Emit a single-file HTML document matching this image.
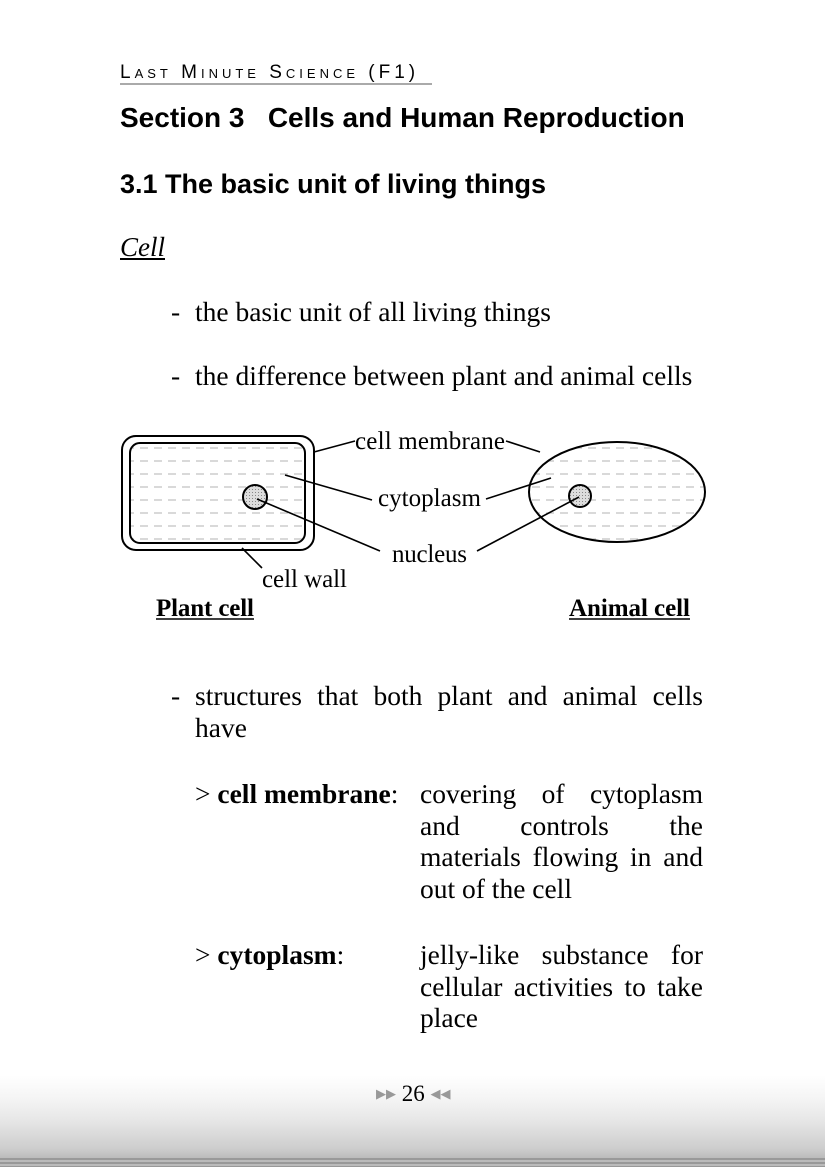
<!DOCTYPE html>
<html><head><meta charset="utf-8"><style>
body{margin:0;width:825px;height:1167px;background:#fff;position:relative;overflow:hidden;font-family:"Liberation Serif",serif;color:#000}
.a{position:absolute;white-space:nowrap;line-height:1}
.s{font-family:"Liberation Sans",sans-serif;font-weight:bold}
.t{font-size:27.5px}
.j{position:absolute;font-size:27.5px;line-height:31.7px;text-align:justify;text-align-last:left;white-space:normal}
</style></head><body>
<div class="a" style="left:120px;top:63px;font-family:'Liberation Sans',sans-serif;font-size:19px;letter-spacing:4px;font-variant:small-caps;padding-bottom:1px;border-bottom:2px solid #aaa;width:312px">Last Minute Science (F1)</div>
<div class="a s" style="left:120px;top:104px;font-size:28px">Section 3&nbsp;&nbsp; Cells and Human Reproduction</div>
<div class="a s" style="left:120px;top:171px;font-size:27px">3.1 The basic unit of living things</div>
<div class="a" style="left:120px;top:234px;font-size:27px;font-style:italic;text-decoration:underline">Cell</div>
<div class="a t" style="left:171px;top:298px">-</div><div class="a t" style="left:195px;top:298px">the basic unit of all living things</div>
<div class="a t" style="left:171px;top:362px">-</div><div class="a t" style="left:195px;top:362px">the difference between plant and animal cells</div>

<svg style="position:absolute;left:0;top:0" width="825" height="650">
<defs><pattern id="d" width="14" height="13" patternUnits="userSpaceOnUse"><line x1="0" y1="6" x2="8" y2="6" stroke="#ccc" stroke-width="1.5"/></pattern>
<pattern id="g" width="3" height="3" patternUnits="userSpaceOnUse"><rect width="3" height="3" fill="#ddd"/><rect width="1" height="1" fill="#888"/></pattern></defs>
<rect x="122" y="436" width="192" height="114" rx="14" fill="#fff" stroke="#000" stroke-width="2"/>
<rect x="130" y="443" width="175" height="100" rx="10" fill="url(#d)" stroke="#000" stroke-width="2"/>
<circle cx="255" cy="497" r="12" fill="url(#g)" stroke="#000" stroke-width="2"/>
<ellipse cx="617" cy="492" rx="88" ry="50" fill="url(#d)" stroke="#000" stroke-width="2"/>
<circle cx="580" cy="496" r="11" fill="url(#g)" stroke="#000" stroke-width="2"/>
<g stroke="#000" stroke-width="1.6">
<line x1="314" y1="452" x2="355" y2="441"/><line x1="506" y1="441" x2="540" y2="452"/>
<line x1="285" y1="475" x2="372" y2="500"/><line x1="486" y1="499" x2="551" y2="478"/>
<line x1="257" y1="499" x2="380" y2="551"/><line x1="477" y1="551" x2="579" y2="497"/>
<line x1="242" y1="548" x2="262" y2="568"/>
</g>
<g font-family="Liberation Serif,serif" font-size="25">
<text x="355" y="449" textLength="150">cell membrane</text>
<text x="378" y="506" textLength="103">cytoplasm</text>
<text x="392" y="562" textLength="75">nucleus</text>
<text x="262" y="587" textLength="85">cell wall</text>
</g>
<g font-family="Liberation Serif,serif" font-size="25" font-weight="bold">
<text x="156" y="616" textLength="98">Plant cell</text><text x="569" y="616" textLength="121">Animal cell</text>
</g>
<line x1="156" y1="619" x2="254" y2="619" stroke="#000" stroke-width="1.5"/>
<line x1="569" y1="619" x2="690" y2="619" stroke="#000" stroke-width="1.5"/>
</svg>

<div class="a t" style="left:171px;top:682px">-</div>
<div class="j" style="left:195px;top:680px;width:508px">structures that both plant and animal cells have</div>
<div class="a t" style="left:195px;top:780px">&gt; <b>cell membrane</b>:</div>
<div class="j" style="left:420px;top:778px;width:283px">covering of cytoplasm and controls the materials flowing in and out of the cell</div>
<div class="a t" style="left:195px;top:941px">&gt; <b>cytoplasm</b>:</div>
<div class="j" style="left:420px;top:939px;width:283px">jelly-like substance for cellular activities to take place</div>

<div style="position:absolute;left:0;top:1075px;width:825px;height:92px;background:linear-gradient(#fff,#f5f5f5 25%,#e6e6e6 50%,#cdcdcd 80%,#aaa)"></div>
<div style="position:absolute;left:0;top:1158px;width:825px;height:9px;background:repeating-linear-gradient(#999 0 2px,#bbb 2px 4px)"></div>
<div class="a" style="left:376px;top:1082px;font-size:23px"><span style="color:#999;font-size:13px;vertical-align:3px">▶▶</span> 26 <span style="color:#999;font-size:13px;vertical-align:3px">◀◀</span></div>
</body></html>
